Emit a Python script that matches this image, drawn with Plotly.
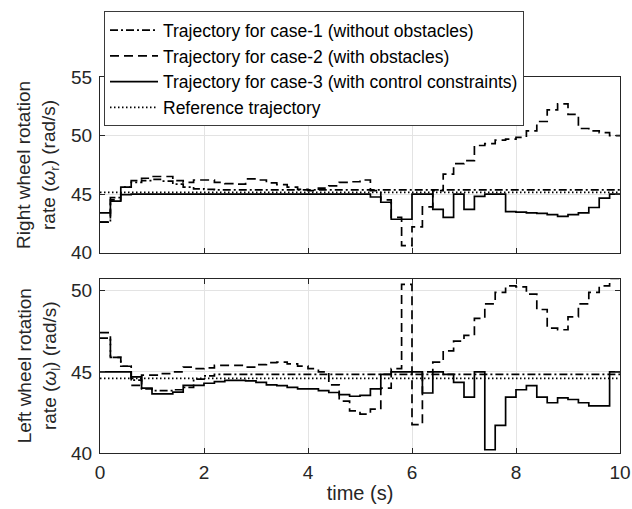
import plotly.graph_objects as go

# Sample instants of the controller (s)
t = [0.0, 0.2, 0.4, 0.6, 0.8, 1.0, 1.2, 1.4, 1.6, 1.8,
     2.0, 2.2, 2.4, 2.6, 2.8, 3.0, 3.2, 3.4, 3.6, 3.8,
     4.0, 4.2, 4.4, 4.6, 4.8, 5.0, 5.2, 5.4, 5.6, 5.8,
     6.0, 6.2, 6.4, 6.6, 6.8, 7.0, 7.2, 7.4, 7.6, 7.8,
     8.0, 8.2, 8.4, 8.6, 8.8, 9.0, 9.2, 9.4, 9.6, 9.8, 10.0]

# Right wheel rotation rate (rad/s)
ref_r = 45.15
case1_r = [42.6, 44.7, 45.6, 46.0, 46.15, 46.25, 46.1, 45.85, 45.6, 45.45,
           45.4, 45.35, 45.35, 45.35, 45.35, 45.35, 45.35, 45.35, 45.35, 45.35,
           45.35, 45.35, 45.35, 45.35, 45.35, 45.35, 45.35, 45.35, 45.35, 45.35,
           45.35, 45.35, 45.35, 45.35, 45.35, 45.35, 45.35, 45.35, 45.35, 45.35,
           45.35, 45.35, 45.35, 45.35, 45.35, 45.35, 45.35, 45.35, 45.35, 45.35, 45.35]
case2_r = [42.6, 44.5, 45.6, 46.15, 46.35, 46.5, 46.5, 46.15, 46.0, 46.2,
           46.2, 46.0, 45.9, 45.85, 46.3, 46.2, 45.95, 45.8, 45.6, 45.4,
           45.3, 45.5, 45.7, 46.0, 46.05, 46.2, 45.3, 44.5, 43.0, 40.6,
           42.2, 43.9, 45.3, 46.7, 47.6, 47.85, 49.15, 49.3, 49.6, 49.7,
           49.85, 50.4, 51.2, 52.2, 52.7, 51.8, 50.6, 50.4, 50.25, 50.0, 49.95]
case3_r = [43.4, 44.4, 44.95, 45.0, 45.0, 45.0, 45.0, 45.0, 45.0, 45.0,
           45.0, 45.0, 45.0, 45.0, 45.0, 45.0, 45.0, 45.0, 45.0, 45.0,
           45.0, 45.0, 45.0, 45.0, 45.0, 45.0, 44.75, 44.3, 42.85, 42.85,
           45.0, 45.0, 43.7, 43.0, 45.0, 43.7, 44.8, 45.0, 45.0, 43.5,
           43.45, 43.4, 43.35, 43.25, 43.1, 43.25, 43.4, 43.85, 44.65, 45.0, 45.0]

# Left wheel rotation rate (rad/s)
ref_l = 44.6
case1_l = [47.08, 45.9, 45.35, 44.5, 43.95, 43.85, 43.85, 43.9, 44.05, 44.55,
           44.75, 44.85, 44.85, 44.85, 44.85, 44.85, 44.85, 44.85, 44.85, 44.85,
           44.85, 44.85, 44.85, 44.85, 44.85, 44.85, 44.85, 44.85, 44.85, 44.85,
           44.85, 44.85, 44.85, 44.85, 44.85, 44.85, 44.85, 44.85, 44.85, 44.85,
           44.85, 44.85, 44.85, 44.85, 44.85, 44.85, 44.85, 44.85, 44.85, 44.85, 44.85]
case2_l = [47.42, 45.9, 45.35, 44.17, 44.8, 44.8, 44.9, 45.0, 45.3, 45.2,
           45.25, 45.4, 45.4, 45.4, 45.3, 45.45, 45.57, 45.6, 45.5, 45.36,
           45.2, 45.0, 44.2, 43.2, 42.6, 42.4, 42.7, 44.0, 45.2, 50.4,
           41.75, 45.0, 45.6, 46.3, 46.9, 47.25, 48.3, 49.2, 49.9, 50.3,
           50.25, 49.8, 48.85, 47.7, 47.6, 48.4, 49.2, 49.9, 50.3, 50.75, 50.75]
case3_l = [45.0, 45.0, 45.0, 44.7, 44.0, 43.65, 43.65, 43.75, 44.17, 44.17,
           44.3, 44.4, 44.48, 44.48, 44.45, 44.35, 44.2, 44.15, 44.05, 43.96,
           43.95, 43.85, 43.73, 43.6, 43.5, 43.55, 43.96, 44.85, 45.0, 45.0,
           45.0, 43.7, 45.0, 44.85, 44.35, 43.45, 45.0, 40.2, 41.7, 43.45,
           43.9, 44.15, 43.45, 43.1, 43.4, 43.3, 43.1, 42.9, 42.9, 45.0, 45.0]

names = ["Trajectory for case-1 (without obstacles)",
         "Trajectory for case-2 (with obstacles)",
         "Trajectory for case-3 (with control constraints)",
         "Reference trajectory"]
dashes = ["8px,3px,2px,3px", "9px,5px", "solid", "1.5px,2.5px"]

FONT = "Liberation Sans, Arial, Helvetica, sans-serif"
INK = "#262626"
LW = 1.7

fig = go.Figure()

panels = [
    ("y", [case1_r, case2_r, case3_r], ref_r, True),
    ("y2", [case1_l, case2_l, case3_l], ref_l, False),
]
for yax, series, ref, show in panels:
    xax = "x" if yax == "y" else "x2"
    for name, dash, ys in zip(names[:3], dashes[:3], series):
        fig.add_trace(go.Scatter(
            x=t, y=ys, mode="lines", name=name, legendgroup=name,
            showlegend=show, xaxis=xax, yaxis=yax,
            line=dict(color="black", width=LW, dash=dash, shape="hv"),
        ))
    fig.add_trace(go.Scatter(
        x=[t[0], t[-1]], y=[ref, ref], mode="lines", name=names[3],
        legendgroup=names[3], showlegend=show, xaxis=xax, yaxis=yax,
        line=dict(color="black", width=LW, dash=dashes[3]),
    ))

axis_common = dict(
    showline=True, linecolor=INK, linewidth=1, mirror="ticks",
    ticks="inside", ticklen=5, tickcolor=INK,
    showgrid=True, gridcolor="#e3e3e3", gridwidth=1, zeroline=False,
    tickfont=dict(family=FONT, size=19, color=INK), automargin=False,
)

TOP_DOM = [0.533, 1.0]
BOT_DOM = [0.0, 0.4615]

fig.update_layout(
    width=632, height=509,
    margin=dict(l=100, r=12, t=76, b=56),
    paper_bgcolor="white", plot_bgcolor="white",
    font=dict(family=FONT, color=INK),
    xaxis=dict(axis_common, range=[0, 10], dtick=2, anchor="y",
               showticklabels=False),
    yaxis=dict(axis_common, range=[40, 55], dtick=5, domain=TOP_DOM,
               anchor="x", ticklabelstandoff=3),
    xaxis2=dict(axis_common, range=[0, 10], dtick=2, anchor="y2",
                ticklabelstandoff=2,
                title=dict(text="time (s)", standoff=4,
                           font=dict(family=FONT, size=20, color=INK))),
    yaxis2=dict(axis_common, range=[40, 50.7], tickvals=[40, 45, 50],
                domain=BOT_DOM, anchor="x2", ticklabelstandoff=3),
    legend=dict(
        x=0.0077, y=1.172, xanchor="left", yanchor="top",
        bgcolor="white", bordercolor="#3a3a3a", borderwidth=1,
        font=dict(family=FONT, size=17.5, color="black"),
        tracegroupgap=0, itemwidth=48,
    ),
    showlegend=True,
)

# Two-line y-axis captions
ytitles = [
    ("Right wheel rotation<br>rate (<i>ω</i><sub>r</sub>) (rad/s)", 0.7666),
    ("Left wheel rotation<br>rate (<i>ω</i><sub>l</sub>) (rad/s)", 0.2308),
]
for text, ymid in ytitles:
    fig.add_annotation(
        text=text, xref="paper", yref="paper", x=-0.119, y=ymid,
        xanchor="center", yanchor="middle", textangle=-90, showarrow=False,
        font=dict(family=FONT, size=19, color=INK), align="center",
    )

fig.write_html("out.html")
